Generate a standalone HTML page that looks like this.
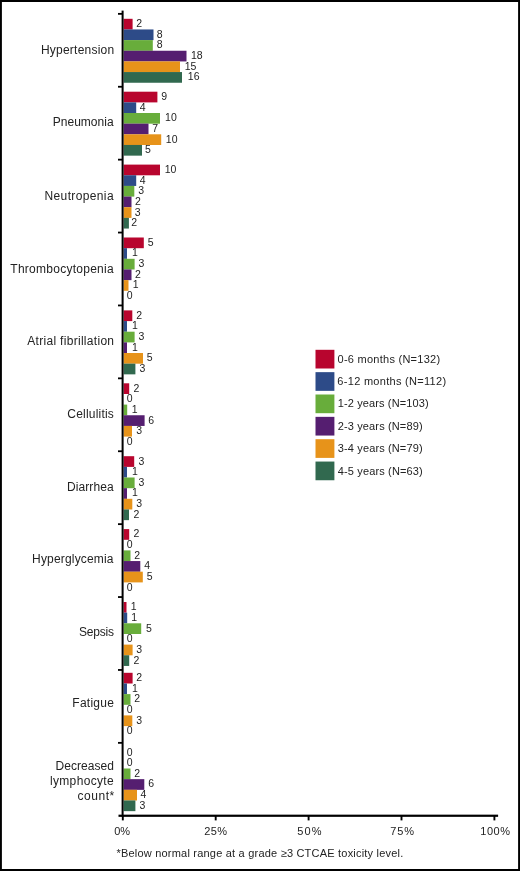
<!DOCTYPE html>
<html lang="en"><head><meta charset="utf-8"><title>Adverse events chart</title>
<style>
html,body{margin:0;padding:0;background:#fff;}
body{width:520px;height:871px;overflow:hidden;}
svg{display:block;}
text{font-family:"Liberation Sans",sans-serif;fill:#232323;}
.cat{font-size:12px;}
.val{font-size:10.5px;}
.axl{font-size:11px;}
.leg{font-size:11px;}
.foot{font-size:11px;}
</style></head><body>
<svg width="520" height="871" viewBox="0 0 520 871">
<rect x="0" y="0" width="520" height="871" fill="#fff"/>

<rect x="123.6" y="18.80" width="9.00" height="10.70" fill="#B8052E"/>
<rect x="123.6" y="29.45" width="29.90" height="10.70" fill="#2D4B88"/>
<rect x="123.6" y="40.10" width="29.20" height="10.70" fill="#68AD3B"/>
<rect x="123.6" y="50.75" width="62.90" height="10.70" fill="#551E70"/>
<rect x="123.6" y="61.40" width="56.40" height="10.70" fill="#E7931A"/>
<rect x="123.6" y="72.05" width="58.40" height="10.70" fill="#31694F"/>
<text class="val" x="136.3" y="27.12">2</text>
<text class="val" x="156.7" y="37.78">8</text>
<text class="val" x="156.7" y="48.43">8</text>
<text class="val" x="190.9" y="59.08">18</text>
<text class="val" x="184.7" y="69.73">15</text>
<text class="val" x="187.8" y="80.38">16</text>
<text class="cat" x="40.90" y="54.00" textLength="73.26" lengthAdjust="spacing">Hypertension</text>
<rect x="123.6" y="91.70" width="33.80" height="10.70" fill="#B8052E"/>
<rect x="123.6" y="102.35" width="12.60" height="10.70" fill="#2D4B88"/>
<rect x="123.6" y="113.00" width="36.40" height="10.70" fill="#68AD3B"/>
<rect x="123.6" y="123.65" width="24.90" height="10.70" fill="#551E70"/>
<rect x="123.6" y="134.30" width="37.60" height="10.70" fill="#E7931A"/>
<rect x="123.6" y="144.95" width="18.40" height="10.70" fill="#31694F"/>
<text class="val" x="161.2" y="100.03">9</text>
<text class="val" x="139.7" y="110.68">4</text>
<text class="val" x="165.1" y="121.33">10</text>
<text class="val" x="152.3" y="131.97">7</text>
<text class="val" x="165.8" y="142.62">10</text>
<text class="val" x="145.1" y="153.27">5</text>
<text class="cat" x="52.72" y="126.25" textLength="60.88" lengthAdjust="spacing">Pneumonia</text>
<rect x="123.6" y="164.60" width="36.40" height="10.70" fill="#B8052E"/>
<rect x="123.6" y="175.25" width="12.60" height="10.70" fill="#2D4B88"/>
<rect x="123.6" y="185.90" width="10.70" height="10.70" fill="#68AD3B"/>
<rect x="123.6" y="196.55" width="7.90" height="10.70" fill="#551E70"/>
<rect x="123.6" y="207.20" width="7.90" height="10.70" fill="#E7931A"/>
<rect x="123.6" y="217.85" width="5.30" height="10.70" fill="#31694F"/>
<text class="val" x="164.7" y="172.93">10</text>
<text class="val" x="139.7" y="183.58">4</text>
<text class="val" x="138.2" y="194.23">3</text>
<text class="val" x="135.1" y="204.88">2</text>
<text class="val" x="134.7" y="215.53">3</text>
<text class="val" x="131.2" y="226.18">2</text>
<text class="cat" x="44.53" y="200.00" textLength="69.04" lengthAdjust="spacing">Neutropenia</text>
<rect x="123.6" y="237.50" width="20.20" height="10.70" fill="#B8052E"/>
<rect x="123.6" y="248.15" width="3.40" height="10.70" fill="#2D4B88"/>
<rect x="123.6" y="258.80" width="11.00" height="10.70" fill="#68AD3B"/>
<rect x="123.6" y="269.45" width="7.90" height="10.70" fill="#551E70"/>
<rect x="123.6" y="280.10" width="4.90" height="10.70" fill="#E7931A"/>
<text class="val" x="147.7" y="245.83">5</text>
<text class="val" x="132.0" y="256.48">1</text>
<text class="val" x="138.5" y="267.12">3</text>
<text class="val" x="135.1" y="277.78">2</text>
<text class="val" x="132.7" y="288.43">1</text>
<text class="val" x="126.7" y="299.07">0</text>
<text class="cat" x="10.32" y="272.60" textLength="103.35" lengthAdjust="spacing">Thrombocytopenia</text>
<rect x="123.6" y="310.40" width="8.70" height="10.70" fill="#B8052E"/>
<rect x="123.6" y="321.05" width="3.40" height="10.70" fill="#2D4B88"/>
<rect x="123.6" y="331.70" width="11.00" height="10.70" fill="#68AD3B"/>
<rect x="123.6" y="342.35" width="3.40" height="10.70" fill="#551E70"/>
<rect x="123.6" y="353.00" width="19.40" height="10.70" fill="#E7931A"/>
<rect x="123.6" y="363.65" width="11.80" height="10.70" fill="#31694F"/>
<text class="val" x="136.3" y="318.73">2</text>
<text class="val" x="132.0" y="329.38">1</text>
<text class="val" x="138.5" y="340.03">3</text>
<text class="val" x="132.0" y="350.68">1</text>
<text class="val" x="146.7" y="361.33">5</text>
<text class="val" x="139.4" y="371.98">3</text>
<text class="cat" x="27.27" y="345.00" textLength="86.79" lengthAdjust="spacing">Atrial fibrillation</text>
<rect x="123.6" y="383.30" width="5.60" height="10.70" fill="#B8052E"/>
<rect x="123.6" y="404.60" width="3.60" height="10.70" fill="#68AD3B"/>
<rect x="123.6" y="415.25" width="21.00" height="10.70" fill="#551E70"/>
<rect x="123.6" y="425.90" width="8.40" height="10.70" fill="#E7931A"/>
<text class="val" x="133.5" y="391.62">2</text>
<text class="val" x="126.7" y="402.27">0</text>
<text class="val" x="131.7" y="412.93">1</text>
<text class="val" x="148.2" y="423.57">6</text>
<text class="val" x="136.3" y="434.23">3</text>
<text class="val" x="126.7" y="444.88">0</text>
<text class="cat" x="67.36" y="418.00" textLength="46.44" lengthAdjust="spacing">Cellulitis</text>
<rect x="123.6" y="456.20" width="10.60" height="10.70" fill="#B8052E"/>
<rect x="123.6" y="466.85" width="3.40" height="10.70" fill="#2D4B88"/>
<rect x="123.6" y="477.50" width="11.00" height="10.70" fill="#68AD3B"/>
<rect x="123.6" y="488.15" width="3.40" height="10.70" fill="#551E70"/>
<rect x="123.6" y="498.80" width="8.70" height="10.70" fill="#E7931A"/>
<rect x="123.6" y="509.45" width="5.40" height="10.70" fill="#31694F"/>
<text class="val" x="138.5" y="464.53">3</text>
<text class="val" x="132.0" y="475.18">1</text>
<text class="val" x="138.5" y="485.83">3</text>
<text class="val" x="132.0" y="496.48">1</text>
<text class="val" x="136.3" y="507.13">3</text>
<text class="val" x="133.5" y="517.78">2</text>
<text class="cat" x="67.10" y="490.75" textLength="46.50" lengthAdjust="spacing">Diarrhea</text>
<rect x="123.6" y="529.10" width="5.60" height="10.70" fill="#B8052E"/>
<rect x="123.6" y="550.40" width="6.90" height="10.70" fill="#68AD3B"/>
<rect x="123.6" y="561.05" width="16.70" height="10.70" fill="#551E70"/>
<rect x="123.6" y="571.70" width="19.20" height="10.70" fill="#E7931A"/>
<text class="val" x="133.5" y="537.43">2</text>
<text class="val" x="126.7" y="548.08">0</text>
<text class="val" x="134.3" y="558.73">2</text>
<text class="val" x="144.3" y="569.38">4</text>
<text class="val" x="146.7" y="580.03">5</text>
<text class="val" x="126.7" y="590.68">0</text>
<text class="cat" x="32.10" y="563.25" textLength="81.44" lengthAdjust="spacing">Hyperglycemia</text>
<rect x="123.6" y="602.00" width="2.90" height="10.70" fill="#B8052E"/>
<rect x="123.6" y="612.65" width="3.60" height="10.70" fill="#2D4B88"/>
<rect x="123.6" y="623.30" width="17.60" height="10.70" fill="#68AD3B"/>
<rect x="123.6" y="644.60" width="9.00" height="10.70" fill="#E7931A"/>
<rect x="123.6" y="655.25" width="5.60" height="10.70" fill="#31694F"/>
<text class="val" x="130.7" y="610.33">1</text>
<text class="val" x="131.2" y="620.98">1</text>
<text class="val" x="145.9" y="631.62">5</text>
<text class="val" x="126.7" y="642.28">0</text>
<text class="val" x="136.3" y="652.93">3</text>
<text class="val" x="133.5" y="663.58">2</text>
<text class="cat" x="79.10" y="636.25" textLength="34.84" lengthAdjust="spacing">Sepsis</text>
<rect x="123.6" y="672.80" width="9.00" height="10.70" fill="#B8052E"/>
<rect x="123.6" y="683.45" width="3.40" height="10.70" fill="#2D4B88"/>
<rect x="123.6" y="694.10" width="6.90" height="10.70" fill="#68AD3B"/>
<rect x="123.6" y="715.40" width="8.70" height="10.70" fill="#E7931A"/>
<text class="val" x="136.3" y="681.12">2</text>
<text class="val" x="132.0" y="691.77">1</text>
<text class="val" x="134.3" y="702.42">2</text>
<text class="val" x="126.7" y="713.08">0</text>
<text class="val" x="136.3" y="723.73">3</text>
<text class="val" x="126.7" y="734.38">0</text>
<text class="cat" x="72.32" y="707.30" textLength="41.57" lengthAdjust="spacing">Fatigue</text>
<rect x="123.6" y="768.50" width="6.90" height="10.70" fill="#68AD3B"/>
<rect x="123.6" y="779.15" width="20.70" height="10.70" fill="#551E70"/>
<rect x="123.6" y="789.80" width="13.40" height="10.70" fill="#E7931A"/>
<rect x="123.6" y="800.45" width="11.80" height="10.70" fill="#31694F"/>
<text class="val" x="126.7" y="755.53">0</text>
<text class="val" x="126.7" y="766.18">0</text>
<text class="val" x="134.3" y="776.83">2</text>
<text class="val" x="148.2" y="787.48">6</text>
<text class="val" x="140.5" y="798.13">4</text>
<text class="val" x="139.4" y="808.78">3</text>
<text class="cat" x="55.53" y="770.20" textLength="58.42" lengthAdjust="spacing">Decreased</text>
<text class="cat" x="49.95" y="785.00" textLength="63.76" lengthAdjust="spacing">lymphocyte</text>
<text class="cat" x="77.53" y="799.60" textLength="36.70" lengthAdjust="spacing">count*</text>
<rect x="121.6" y="10.6" width="2" height="806.2" fill="#000"/>
<rect x="118" y="12.95" width="4.5" height="1.8" fill="#000"/>
<rect x="118" y="85.85" width="4.5" height="1.8" fill="#000"/>
<rect x="118" y="158.75" width="4.5" height="1.8" fill="#000"/>
<rect x="118" y="231.65" width="4.5" height="1.8" fill="#000"/>
<rect x="118" y="304.55" width="4.5" height="1.8" fill="#000"/>
<rect x="118" y="377.45" width="4.5" height="1.8" fill="#000"/>
<rect x="118" y="450.35" width="4.5" height="1.8" fill="#000"/>
<rect x="118" y="523.25" width="4.5" height="1.8" fill="#000"/>
<rect x="118" y="596.15" width="4.5" height="1.8" fill="#000"/>
<rect x="118" y="669.05" width="4.5" height="1.8" fill="#000"/>
<rect x="118" y="741.95" width="4.5" height="1.8" fill="#000"/>
<rect x="118.5" y="814.65" width="379.6" height="2.2" fill="#000"/>
<rect x="121.85" y="816" width="1.9" height="4.4" fill="#000"/>
<text class="axl" x="114.16" y="834.60" textLength="15.92" lengthAdjust="spacing">0%</text>
<rect x="214.75" y="816" width="1.9" height="4.4" fill="#000"/>
<text class="axl" x="204.32" y="834.60" textLength="22.69" lengthAdjust="spacing">25%</text>
<rect x="307.65" y="816" width="1.9" height="4.4" fill="#000"/>
<text class="axl" x="297.24" y="834.60" textLength="24.20" lengthAdjust="spacing">50%</text>
<rect x="400.55" y="816" width="1.9" height="4.4" fill="#000"/>
<text class="axl" x="390.18" y="834.60" textLength="23.86" lengthAdjust="spacing">75%</text>
<rect x="493.45" y="816" width="1.9" height="4.4" fill="#000"/>
<text class="axl" x="480.29" y="834.60" textLength="29.75" lengthAdjust="spacing">100%</text>
<rect x="315.5" y="349.80" width="18.9" height="18.7" fill="#B8052E"/>
<text class="leg" x="337.55" y="362.50" textLength="102.55" lengthAdjust="spacing">0-6 months (N=132)</text>
<rect x="315.5" y="372.15" width="18.9" height="18.7" fill="#2D4B88"/>
<text class="leg" x="337.35" y="385.00" textLength="108.75" lengthAdjust="spacing">6-12 months (N=112)</text>
<rect x="315.5" y="394.50" width="18.9" height="18.7" fill="#68AD3B"/>
<text class="leg" x="337.83" y="407.00" textLength="90.80" lengthAdjust="spacing">1-2 years (N=103)</text>
<rect x="315.5" y="416.85" width="18.9" height="18.7" fill="#551E70"/>
<text class="leg" x="337.73" y="430.00" textLength="84.88" lengthAdjust="spacing">2-3 years (N=89)</text>
<rect x="315.5" y="439.20" width="18.9" height="18.7" fill="#E7931A"/>
<text class="leg" x="337.77" y="452.00" textLength="84.84" lengthAdjust="spacing">3-4 years (N=79)</text>
<rect x="315.5" y="461.55" width="18.9" height="18.7" fill="#31694F"/>
<text class="leg" x="337.79" y="474.50" textLength="85.00" lengthAdjust="spacing">4-5 years (N=63)</text>
<text class="foot" x="116.48" y="856.90" textLength="286.79" lengthAdjust="spacing">*Below normal range at a grade ≥3 CTCAE toxicity level.</text>
<path d="M0 0H520V871H0Z M1.9 1.9V868.9H518.1V1.9Z" fill="#000" fill-rule="evenodd"/>
</svg>
</body></html>
